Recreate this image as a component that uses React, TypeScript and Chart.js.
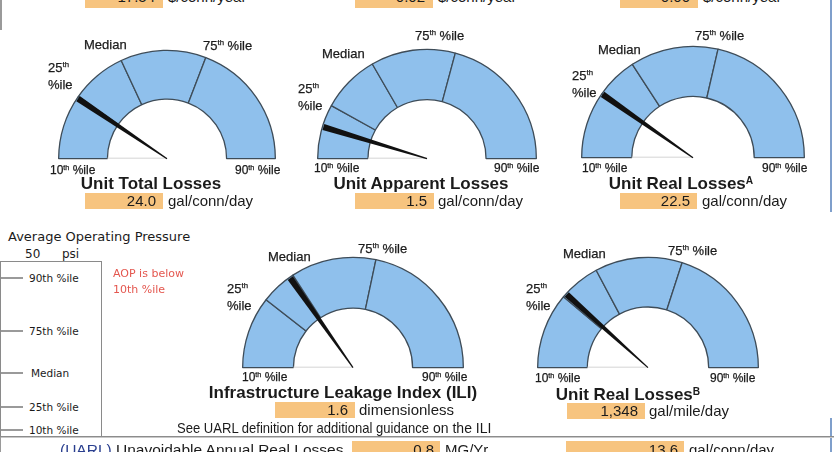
import React, { useEffect, useRef } from "react";
import { Chart, registerables } from "chart.js";

Chart.register(...registerables);

// ---------- data ----------
const bandLabels = ["10th–25th %ile", "25th %ile–Median", "Median–75th %ile", "75th–90th %ile"];
// arc span of each percentile band (degrees of the 180° dial)
const totalLossBands = [35, 30, 46, 69];
const apparentLossBands = [29, 31, 45, 75];
const realLossBandsA = [35, 22, 46, 77];
const iliBands = [38, 19, 45, 78];
const realLossBandsB = [40, 22, 46, 72];
// needle position on the same dial (degrees from the 10th %ile end)
const needlePositions = [34, 17, 35, 55, 42];

const gaugeTitles = ["Unit Total Losses", "Unit Apparent Losses", "Unit Real Losses", "Infrastructure Leakage Index (ILI)", "Unit Real Losses"];
const gaugeSups = ["", "", "A", "", "B"];
const gaugeValues = ["24.0", "1.5", "22.5", "1.6", "1,348"];
const gaugeUnits = ["gal/conn/day", "gal/conn/day", "gal/conn/day", "dimensionless", "gal/mile/day"];

const costValues = ["17.54", "0.02", "0.00"];
const costUnit = "$/conn/year";

const pressureValue = "50";
const pressureUnit = "psi";
const pressureTicks = ["90th %ile", "75th %ile", "Median", "25th %ile", "10th %ile"];

const uarlValues = ["0.8", "13.6"];
const uarlUnits = ["MG/Yr", "gal/conn/day"];

// ---------- layout ----------
const FONT = "'Liberation Sans', Arial, Helvetica, sans-serif";
const FONT2 = "'DejaVu Sans', Verdana, sans-serif";
const BLUE = "#8fc0ec";
const EDGE = "#3e4c58";
const ORANGE = "#f7c47f";

const gaugeBands = [totalLossBands, apparentLossBands, realLossBandsA, iliBands, realLossBandsB];

const gaugeGeom = [
  { cx: 167, cy: 158, r: 109, cut: "55%" },
  { cx: 427, cy: 158, r: 110, cut: "54%" },
  { cx: 693, cy: 157, r: 112, cut: "55%" },
  { cx: 353, cy: 367, r: 111, cut: "54%" },
  { cx: 648, cy: 367, r: 111, cut: "55%" },
];

const labelPos = [
  { med: [84, 44], p75: [203, 45], p25: [48, 67], p10: [50, 170], p90: [235, 170], title: [151, 184], box: [85, 193, 78], unit: 168 },
  { med: [322, 53], p75: [415, 35], p25: [298, 88], p10: [314, 168], p90: [494, 168], title: [421, 184], box: [355, 193, 79], unit: 438 },
  { med: [598, 49], p75: [695, 35], p25: [572, 75], p10: [582, 168], p90: [762, 168], title: [681, 184], box: [620, 193, 77], unit: 702 },
  { med: [268, 256], p75: [358, 248], p25: [227, 288], p10: [242, 377], p90: [422, 377], title: [343, 393], box: [275, 402, 80], unit: 359 },
  { med: [563, 253], p75: [668, 250], p25: [526, 288], p10: [535, 378], p90: [710, 378], title: [628, 395], box: [567, 403, 78], unit: 649 },
];

const needlePlugin = {
  id: "needle",
  afterDatasetsDraw(chart: any) {
    const opts = chart.options.plugins.needle;
    const arc: any = chart.getDatasetMeta(0).data[0];
    if (!arc) return;
    const total = chart.data.datasets[0].data.reduce((a: number, b: number) => a + b, 0);
    const { x, y, outerRadius, innerRadius } = arc;
    const ctx = chart.ctx;
    ctx.save();
    // faint baseline inside the hole
    ctx.strokeStyle = "#d4d4d4";
    ctx.lineWidth = 1;
    ctx.beginPath();
    ctx.moveTo(x - innerRadius, y - 0.5);
    ctx.lineTo(x, y - 0.5);
    ctx.stroke();
    const a = -Math.PI + (opts.value / total) * Math.PI;
    const tx = x + Math.cos(a) * (outerRadius - 1);
    const ty = y + Math.sin(a) * (outerRadius - 1);
    const nx = -Math.sin(a);
    const ny = Math.cos(a);
    ctx.fillStyle = "#111";
    ctx.beginPath();
    ctx.moveTo(x + nx * 0.6, y + ny * 0.6);
    ctx.lineTo(tx + nx * 3.1, ty + ny * 3.1);
    ctx.lineTo(tx - nx * 3.1, ty - ny * 3.1);
    ctx.lineTo(x - nx * 0.6, y - ny * 0.6);
    ctx.closePath();
    ctx.fill();
    ctx.restore();
  },
};

function Gauge({ idx }: { idx: number }) {
  const ref = useRef<HTMLCanvasElement | null>(null);
  const g = gaugeGeom[idx];
  const pad = 4;
  const w = g.r * 2 + pad * 2;
  const h = g.r + pad * 2 + 2;
  useEffect(() => {
    if (!ref.current) return;
    const chart = new Chart(ref.current, {
      type: "doughnut",
      data: {
        labels: bandLabels,
        datasets: [
          {
            data: gaugeBands[idx],
            backgroundColor: BLUE,
            borderColor: EDGE,
            borderWidth: 1.3,
          },
        ],
      },
      options: {
        responsive: false,
        animation: false,
        devicePixelRatio: 1,
        circumference: 180,
        rotation: -90,
        cutout: g.cut,
        layout: { padding: { left: pad, right: pad, top: pad, bottom: pad } },
        plugins: {
          legend: { display: false },
          tooltip: { enabled: false },
          needle: { value: needlePositions[idx] },
        } as any,
      },
      plugins: [needlePlugin],
    } as any);
    return () => chart.destroy();
  }, [idx]);
  return (
    <canvas
      ref={ref}
      width={w}
      height={h}
      style={{ position: "absolute", left: g.cx - g.r - pad, top: g.cy - g.r - pad, width: w, height: h }}
    />
  );
}

function T({ x, y, size = 13, children, style = {}, font = FONT }: any) {
  return (
    <div
      style={{
        position: "absolute",
        left: x,
        top: y - size * 0.57,
        fontSize: size,
        lineHeight: `${size * 1.2}px`,
        fontFamily: font,
        whiteSpace: "nowrap",
        color: "#1b1b1b",
        ...style,
      }}
    >
      {children}
    </div>
  );
}

const Sup = ({ children }: any) => (
  <span style={{ fontSize: "0.6em", position: "relative", top: "-0.55em" }}>{children}</span>
);

const bolder = { WebkitTextStroke: "0.25px #1b1b1b" };

function ValueBox({ x, y, w, value, unitX, unit, size = 15 }: any) {
  return (
    <>
      <div style={{ position: "absolute", left: x, top: y, width: w, height: 16, background: ORANGE }} />
      <div
        style={{
          position: "absolute",
          left: x,
          top: y + 8 - size * 0.6,
          width: w - 7,
          textAlign: "right",
          fontSize: size,
          lineHeight: `${size * 1.2}px`,
          fontFamily: FONT,
          color: "#1b1b1b",
        }}
      >
        {value}
      </div>
      <T x={unitX} y={y + 8} size={size}>
        {unit}
      </T>
    </>
  );
}

function GaugeLabels({ idx }: { idx: number }) {
  const p = labelPos[idx];
  return (
    <>
      <T x={p.med[0]} y={p.med[1]} style={bolder}>Median</T>
      <T x={p.p75[0]} y={p.p75[1]} style={bolder}>
        75<Sup>th</Sup> %ile
      </T>
      <T x={p.p25[0]} y={p.p25[1]} style={bolder}>
        25<Sup>th</Sup>
      </T>
      <T x={p.p25[0]} y={p.p25[1] + 17} style={bolder}>%ile</T>
      <T x={p.p10[0]} y={p.p10[1]} size={12} style={bolder}>
        10<Sup>th</Sup> %ile
      </T>
      <T x={p.p90[0]} y={p.p90[1]} size={12} style={bolder}>
        90<Sup>th</Sup> %ile
      </T>
      <div
        style={{
          position: "absolute",
          left: p.title[0] - 200,
          width: 400,
          textAlign: "center",
          top: p.title[1] - 17 * 0.57,
          fontSize: 17,
          lineHeight: "20px",
          fontWeight: "bold",
          fontFamily: FONT,
          color: "#1b1b1b",
          whiteSpace: "nowrap",
        }}
      >
        {gaugeTitles[idx]}
        {gaugeSups[idx] ? <Sup>{gaugeSups[idx]}</Sup> : null}
      </div>
      <ValueBox x={p.box[0]} y={p.box[1]} w={p.box[2]} value={gaugeValues[idx]} unitX={p.unit} unit={gaugeUnits[idx]} />
    </>
  );
}

const tickYs = [278, 331, 373, 407, 430];

export default function App() {
  return (
    <div style={{ position: "absolute", left: 0, top: 0, width: 834, height: 452, background: "#fff", overflow: "hidden" }}>
      {/* frame lines */}
      <div style={{ position: "absolute", left: 0, top: 0, width: 2, height: 30, background: "#9a9a9a" }} />
      <div style={{ position: "absolute", left: 830, top: 0, width: 2, height: 212, background: "#7f9fcb" }} />
      <div style={{ position: "absolute", left: 830, top: 418, width: 2, height: 34, background: "#7f9fcb" }} />

      {/* top row (cut off) */}
      {[85, 355, 620].map((x, i) => (
        <React.Fragment key={i}>
          <div style={{ position: "absolute", left: x, top: 0, width: 78, height: 8, background: ORANGE }} />
          <div
            style={{
              position: "absolute",
              left: x,
              top: -12,
              width: 70,
              textAlign: "right",
              fontSize: 15,
              lineHeight: "18px",
              fontFamily: FONT,
              color: "#1b1b1b",
            }}
          >
            {costValues[i]}
          </div>
          <div style={{ position: "absolute", left: x + 83, top: -12, fontSize: 15, lineHeight: "18px", fontFamily: FONT, color: "#1b1b1b" }}>
            {costUnit}
          </div>
        </React.Fragment>
      ))}

      {[0, 1, 2, 3, 4].map((i) => (
        <Gauge key={i} idx={i} />
      ))}
      {[0, 1, 2, 3, 4].map((i) => (
        <GaugeLabels key={"l" + i} idx={i} />
      ))}

      {/* pressure panel */}
      <T x={8} y={236} size={13} font={FONT2}>
        Average Operating Pressure
      </T>
      <T x={25} y={254} size={12} font={FONT2}>
        {pressureValue}
      </T>
      <T x={62} y={254} size={12} font={FONT2}>
        {pressureUnit}
      </T>
      <div style={{ position: "absolute", left: 0, top: 261, width: 100, height: 176, borderTop: "1px solid #8a8a8a", borderRight: "1px solid #8a8a8a", borderLeft: "1px solid #8a8a8a" }} />
      {pressureTicks.map((t, i) => (
        <React.Fragment key={t}>
          <div style={{ position: "absolute", left: 1, top: tickYs[i] - 1, width: 22, height: 2, background: "#9a9a9a" }} />
          <T x={i === 2 ? 31 : 29} y={tickYs[i]} size={10.5} font={FONT2}>
            {t}
          </T>
        </React.Fragment>
      ))}
      <T x={113} y={273} size={11} font={FONT2} style={{ color: "#e4574f" }}>
        AOP is below
      </T>
      <T x={113} y={289} size={11} font={FONT2} style={{ color: "#e4574f" }}>
        10th %ile
      </T>

      {/* UARL note */}
      <T x={177} y={428} size={15}>
        <span style={{ display: "inline-block", transform: "scaleX(0.87)", transformOrigin: "left center", width: 256 }}>
          See UARL definition for additional <span style={{ borderBottom: "1px dotted #555" }}>guidance</span>
        </span>
        <span style={{ fontSize: 14 }}>on the ILI</span>
      </T>

      {/* separator line */}
      <div style={{ position: "absolute", left: 0, top: 436, width: 834, height: 1, background: "#8c8c8c" }} />
      <div style={{ position: "absolute", left: 0, top: 437, width: 834, height: 1, background: "#c8c8c8" }} />
      <div style={{ position: "absolute", left: 0, top: 437, width: 1, height: 15, background: "#9a9a9a" }} />

      {/* bottom row (cut off) */}
      <T x={60} y={450} size={15.5}>
        <span style={{ color: "#2a3f8f" }}>(UARL)</span> Unavoidable Annual Real Losses
      </T>
      <div style={{ position: "absolute", left: 352, top: 441, width: 88, height: 14, background: ORANGE }} />
      <div style={{ position: "absolute", left: 352, top: 441, width: 82, textAlign: "right", fontSize: 15, lineHeight: "18px", fontFamily: FONT, color: "#1b1b1b" }}>
        {uarlValues[0]}
      </div>
      <T x={445} y={450} size={15}>
        {uarlUnits[0]}
      </T>
      <div style={{ position: "absolute", left: 566, top: 441, width: 118, height: 14, background: ORANGE }} />
      <div style={{ position: "absolute", left: 566, top: 441, width: 112, textAlign: "right", fontSize: 15, lineHeight: "18px", fontFamily: FONT, color: "#1b1b1b" }}>
        {uarlValues[1]}
      </div>
      <T x={689} y={450} size={15}>
        {uarlUnits[1]}
      </T>
    </div>
  );
}
